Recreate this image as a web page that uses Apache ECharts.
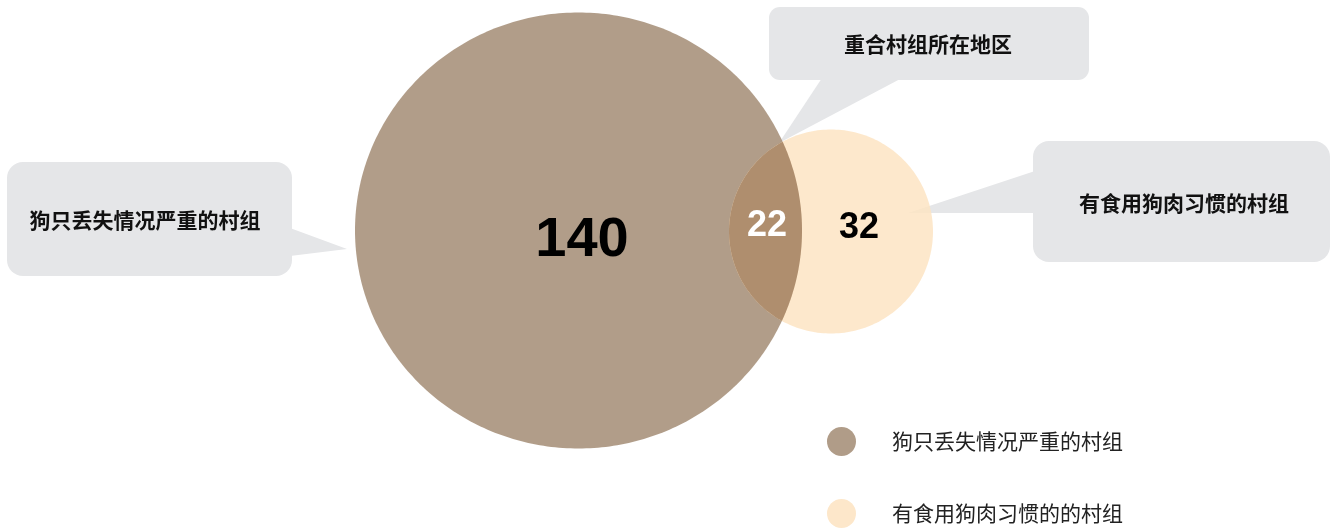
<!DOCTYPE html>
<html>
<head>
<meta charset="utf-8">
<script src="https://cdn.jsdelivr.net/npm/echarts@6/dist/echarts.min.js"></script>
<style>
html,body{margin:0;padding:0;background:#fff;}
#main{width:1330px;height:528px;}
</style>
</head>
<body>
<div id="main"></div>
<script>
// ---- data ----
const setNames = ['狗只丢失情况严重的村组', '有食用狗肉习惯的的村组'];
const calloutLabels = ['狗只丢失情况严重的村组', '重合村组所在地区', '有食用狗肉习惯的村组'];
const regionNames = ['仅狗只丢失', '重合', '仅食用狗肉'];
const regionCounts = [140, 22, 32];

// ---- layout (axis units, 1 unit = 1px) ----
const SET_GEOM = [
  {cx: 578.5, cy: 230.5, rx: 223.5, ry: 218},
  {cx: 831, cy: 231.5, rx: 102, ry: 102}
];
const SET_FILL = ['rgba(163,140,116,0.85)', 'rgba(253,228,195,0.85)'];
const SET_SOLID = ['#B09C88', '#FDE7CA'];
const LENS_FILL = '#AF8E6E';
const LABEL_POS = [[582, 241], [767, 226], [859, 228]];
const LABEL_STYLE = [
  {size: 56, color: '#000'},
  {size: 36, color: '#fff'},
  {size: 36, color: '#000'}
];
const CALLOUTS = [
  {rect: [7, 162, 285, 114], r: 16, ptr: [[290, 228], [347, 249], [290, 256]], text: [145, 220]},
  {rect: [769, 7, 320, 73], r: 11, ptr: [[822, 78], [779, 143], [902, 78]], text: [928, 44]},
  {rect: [1033, 141, 297, 121], r: 16, ptr: [[1035, 171], [908, 213], [1035, 213]], text: [1184, 203]}
];
const LEGEND_TOP = [427, 499];
const CJK = "'Noto Sans CJK SC', sans-serif";
const NUM = "'Liberation Sans', Arial, sans-serif";

function ellipsePoints(api, g, n) {
  const c = api.coord([g.cx, g.cy]);
  const s = api.size([g.rx, g.ry]);
  const rx = Math.abs(s[0]), ry = Math.abs(s[1]);
  const pts = [];
  for (let i = 0; i < n; i++) {
    const t = (i / n) * Math.PI * 2;
    pts.push([c[0] + rx * Math.cos(t), c[1] + ry * Math.sin(t)]);
  }
  return pts;
}

function pix(api, g) {
  const c = api.coord([g.cx, g.cy]);
  const s = api.size([g.rx, g.ry]);
  return {cx: c[0], cy: c[1], rx: Math.abs(s[0]), ry: Math.abs(s[1])};
}

function lensPoints(api) {
  const A = pix(api, SET_GEOM[0]);
  const B = pix(api, SET_GEOM[1]);
  const inA = (x, y) => ((x - A.cx) / A.rx) ** 2 + ((y - A.cy) / A.ry) ** 2 - 1;
  const inB = (x, y) => ((x - B.cx) / B.rx) ** 2 + ((y - B.cy) / B.ry) ** 2 - 1;
  const onB = t => [B.cx + B.rx * Math.cos(t), B.cy + B.ry * Math.sin(t)];
  const onA = t => [A.cx + A.rx * Math.cos(t), A.cy + A.ry * Math.sin(t)];
  function bis(f, lo, hi) {
    let flo = f(lo);
    for (let k = 0; k < 60; k++) {
      const m = (lo + hi) / 2, fm = f(m);
      if ((fm < 0) === (flo < 0)) { lo = m; flo = fm; } else hi = m;
    }
    return (lo + hi) / 2;
  }
  const fB = t => { const p = onB(t); return inA(p[0], p[1]); };
  const tTop = bis(fB, Math.PI, 1.5 * Math.PI);
  const tBot = bis(fB, Math.PI, 0.5 * Math.PI);
  const fA = t => { const p = onA(t); return inB(p[0], p[1]); };
  const sTop = bis(fA, 0, -0.5 * Math.PI);
  const sBot = bis(fA, 0, 0.5 * Math.PI);
  const pts = [];
  const n = 80;
  for (let i = 0; i <= n; i++) pts.push(onB(tTop + (tBot - tTop) * i / n));
  for (let i = 1; i < n; i++) pts.push(onA(sBot + (sTop - sBot) * i / n));
  return pts;
}

const legendBase = {
  orient: 'vertical',
  left: 827,
  padding: 0,
  itemWidth: 29,
  itemHeight: 29,
  icon: 'circle',
  selectedMode: false,
  textStyle: {fontSize: 21, color: '#222', fontFamily: CJK, padding: [0, 0, 0, 31]}
};

const option = {
  animation: false,
  backgroundColor: '#fff',
  grid: {left: 0, right: 0, top: 0, bottom: 0},
  xAxis: {type: 'value', min: 0, max: 1330, show: false},
  yAxis: {type: 'value', min: 0, max: 528, inverse: true, show: false},
  legend: setNames.map((n, i) => Object.assign({}, legendBase, {top: LEGEND_TOP[i], data: [n]})),
  series: [
    {
      type: 'custom',
      name: 'callouts',
      z: 1,
      silent: true,
      data: calloutLabels.map((t, i) => [i]),
      renderItem: function (params, api) {
        const i = params.dataIndex;
        const L = CALLOUTS[i];
        const p0 = api.coord([L.rect[0], L.rect[1]]);
        const sz = api.size([L.rect[2], L.rect[3]]);
        const tp = api.coord(L.text);
        return {
          type: 'group',
          children: [
            {type: 'polygon', shape: {points: L.ptr.map(p => api.coord(p))}, style: {fill: '#E5E6E8'}},
            {type: 'rect', shape: {x: p0[0], y: p0[1], width: Math.abs(sz[0]), height: Math.abs(sz[1]), r: L.r}, style: {fill: '#E5E6E8'}},
            {type: 'text', x: tp[0], y: tp[1], style: {text: calloutLabels[i], fontSize: 21, fontWeight: 'bold', fontFamily: CJK, fill: '#111', align: 'center', verticalAlign: 'middle'}}
          ]
        };
      }
    },
    {
      type: 'custom',
      name: setNames[0],
      z: 2,
      itemStyle: {color: SET_SOLID[0]},
      data: [[0]],
      renderItem: function (params, api) {
        return {type: 'polygon', shape: {points: ellipsePoints(api, SET_GEOM[0], 360)}, style: {fill: SET_FILL[0]}};
      }
    },
    {
      type: 'custom',
      name: setNames[1],
      z: 3,
      itemStyle: {color: SET_SOLID[1]},
      data: [[1]],
      renderItem: function (params, api) {
        return {type: 'polygon', shape: {points: ellipsePoints(api, SET_GEOM[1], 240)}, style: {fill: SET_FILL[1]}};
      }
    },
    {
      type: 'custom',
      name: 'lens',
      z: 4,
      silent: true,
      data: [[2]],
      renderItem: function (params, api) {
        return {type: 'polygon', shape: {points: lensPoints(api)}, style: {fill: LENS_FILL}};
      }
    },
    {
      type: 'custom',
      name: 'labels',
      z: 5,
      silent: true,
      data: regionCounts.map((v, i) => [LABEL_POS[i][0], LABEL_POS[i][1], v]),
      renderItem: function (params, api) {
        const i = params.dataIndex;
        const p = api.coord([api.value(0), api.value(1)]);
        return {type: 'text', x: p[0], y: p[1], style: {text: String(api.value(2)), fontSize: LABEL_STYLE[i].size, fontWeight: 'bold', fontFamily: NUM, fill: LABEL_STYLE[i].color, align: 'center', verticalAlign: 'middle'}};
      }
    }
  ]
};

const chart = echarts.init(document.getElementById('main'), null, {renderer: 'canvas'});
chart.setOption(option);
</script>
</body>
</html>
